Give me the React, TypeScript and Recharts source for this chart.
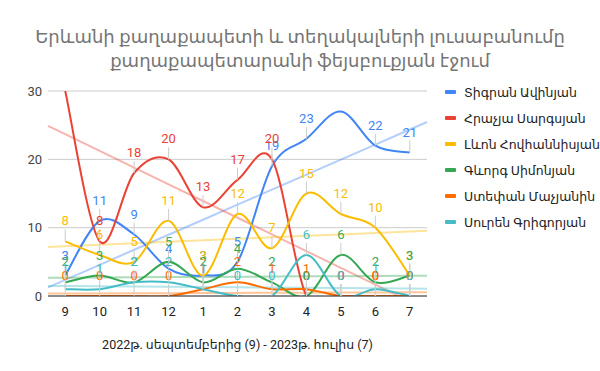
import React from 'react';
import { LineChart, Line, XAxis, YAxis, CartesianGrid, Legend, LabelList } from 'recharts';

const months = ['9', '10', '11', '12', '1', '2', '3', '4', '5', '6', '7'];

const tigran = [3, 11, 9, 4, 3, 5, 19, 23, 27, 22, 21];
const hrachya = [30, 8, 18, 20, 13, 17, 20, 0, 0, 0, 0];
const levon = [8, 6, 5, 11, 3, 12, 7, 15, 12, 10, 3];
const gevorg = [2, 3, 2, 5, 2, 4, 2, 0, 6, 2, 3];
const stepan = [0, 0, 0, 0, 1, 2, 1, 1, 0, 0, 0];
const suren = [1, 1, 2, 2, 1, 0, 0, 6, 0, 1, 0];

const yTicks = [0, 10, 20, 30];

const SERIES = [
  { key: 'tigran', name: 'Տիգրան Ավինյան', color: '#4285F4', values: tigran },
  { key: 'hrachya', name: 'Հրաչյա Սարգսյան', color: '#EA4335', values: hrachya },
  { key: 'levon', name: 'Լևոն Հովհաննիսյան', color: '#FBBC04', values: levon },
  { key: 'gevorg', name: 'Գևորգ Սիմոնյան', color: '#34A853', values: gevorg },
  { key: 'stepan', name: 'Ստեփան Մաչյանին', color: '#FF6D01', values: stepan },
  { key: 'suren', name: 'Սուրեն Գրիգորյան', color: '#46BDC6', values: suren },
];

const PLOT_TOP = 91;
const FONT = 'Roboto, "DejaVu Sans", sans-serif';

// least squares fit, used for the trend lines
const fit = (vals: number[]) => {
  const n = vals.length;
  const mx = (n - 1) / 2;
  const my = vals.reduce((a, b) => a + b, 0) / n;
  let num = 0;
  let den = 0;
  vals.forEach((v, i) => {
    num += (i - mx) * (v - my);
    den += (i - mx) * (i - mx);
  });
  const slope = num / den;
  return (x: number) => my + slope * (x - mx);
};

const trends = SERIES.map((s) => fit(s.values));

const xs = [-0.5, ...months.map((_, i) => i), months.length - 0.5];
const data = xs.map((x) => {
  const row: any = { x };
  SERIES.forEach((s, si) => {
    row[`${s.key}Trend`] = trends[si](x);
    if (Number.isInteger(x)) row[s.key] = s.values[x];
  });
  return row;
});

// catmull-rom style smoothing, close to the sheets "function" curve
const smoothCurve: any = (context: any) => {
  let pts: number[][] = [];
  return {
    areaStart() {},
    areaEnd() {},
    lineStart() {
      pts = [];
    },
    point(x: number, y: number) {
      pts.push([+x, +y]);
    },
    lineEnd() {
      if (!pts.length) return;
      context.moveTo(pts[0][0], pts[0][1]);
      const k = 1 / 6;
      for (let i = 0; i < pts.length - 1; i++) {
        const p0 = pts[i - 1] || pts[i];
        const p1 = pts[i];
        const p2 = pts[i + 1];
        const p3 = pts[i + 2] || p2;
        context.bezierCurveTo(
          p1[0] + (p2[0] - p0[0]) * k,
          p1[1] + (p2[1] - p0[1]) * k,
          p2[0] - (p3[0] - p1[0]) * k,
          p2[1] - (p3[1] - p1[1]) * k,
          p2[0],
          p2[1]
        );
      }
    },
  };
};

const makeLabel = (color: string) => (props: any) => {
  const { x, y, value } = props;
  if (value == null || x == null || y == null) return null;
  if (y - 22 < PLOT_TOP) return null;
  return (
    <g>
      <line x1={x} x2={x} y1={y} y2={y - 12} stroke="#cccccc" strokeWidth={1} />
      <text x={x} y={y - 16} textAnchor="middle" fill={color} fontSize={13} fontFamily={FONT}>
        {value}
      </text>
    </g>
  );
};

const LegendBox = () => (
  <div style={{ fontFamily: FONT, fontSize: 12.5, color: '#222', whiteSpace: 'nowrap' }}>
    {SERIES.map((s) => (
      <div key={s.key} style={{ display: 'flex', alignItems: 'center', height: 26 }}>
        <span style={{ display: 'inline-block', width: 11, height: 4, background: s.color, borderRadius: 1, marginRight: 8 }} />
        <span>{s.name}</span>
      </div>
    ))}
  </div>
);

export default function App() {
  return (
    <div style={{ position: 'absolute', left: 0, top: 0, width: 600, height: 371, background: '#fff' }}>
      <div
        style={{
          position: 'absolute',
          left: 0,
          top: 25,
          width: 600,
          textAlign: 'center',
          fontFamily: FONT,
          fontSize: 18,
          lineHeight: '24px',
          color: '#757575',
        }}
      >
        Երևանի քաղաքապետի և տեղակալների լուսաբանումը
        <br />
        քաղաքապետարանի ֆեյսբուքյան էջում
      </div>
      <LineChart width={600} height={371} data={data} margin={{ top: PLOT_TOP, right: 173, bottom: 15, left: 8 }}>
        <CartesianGrid vertical={false} stroke="#cccccc" />
        <XAxis
          dataKey="x"
          type="number"
          domain={[-0.5, months.length - 0.5]}
          ticks={months.map((_, i) => i)}
          tickFormatter={(i: number) => months[i]}
          height={60}
          axisLine={{ stroke: '#333' }}
          tickLine={false}
          tickMargin={5}
          tick={{ fontSize: 13, fill: '#222', fontFamily: FONT }}
          label={{
            value: '2022թ. սեպտեմբերից (9) - 2023թ. հուլիս (7)',
            position: 'insideBottom',
            offset: 7,
            style: { fontSize: 12.5, fill: '#222', fontFamily: FONT },
          }}
        />
        <YAxis
          domain={[0, 30]}
          ticks={yTicks}
          allowDataOverflow
          width={40}
          axisLine={false}
          tickLine={false}
          tickMargin={0}
          tick={{ fontSize: 13, fill: '#444', fontFamily: FONT }}
        />
        <Legend
          layout="vertical"
          align="center"
          verticalAlign="middle"
          content={() => <LegendBox />}
          wrapperStyle={{ left: 445, top: 79, width: 155 }}
        />
        {SERIES.map((s) => (
          <Line
            key={`${s.key}Trend`}
            dataKey={`${s.key}Trend`}
            type="linear"
            stroke={s.color}
            strokeOpacity={0.4}
            strokeWidth={2}
            dot={false}
            activeDot={false}
            legendType="none"
            isAnimationActive={false}
          />
        ))}
        {SERIES.map((s) => (
          <Line
            key={s.key}
            dataKey={s.key}
            name={s.name}
            type={smoothCurve}
            stroke={s.color}
            strokeWidth={2}
            dot={false}
            activeDot={false}
            isAnimationActive={false}
          >
            <LabelList dataKey={s.key} content={makeLabel(s.color)} />
          </Line>
        ))}
      </LineChart>
    </div>
  );
}
